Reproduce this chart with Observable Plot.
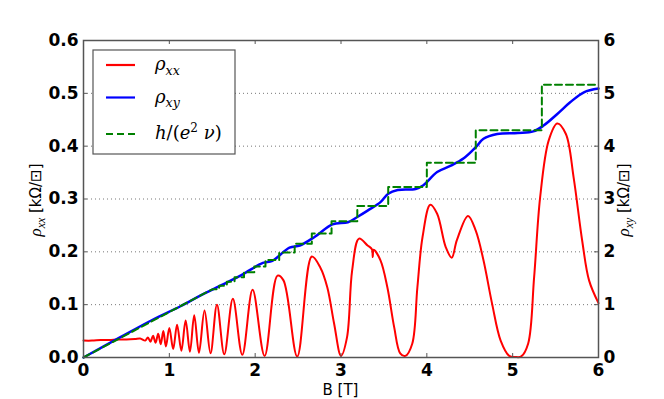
<!DOCTYPE html>
<html><head><meta charset="utf-8">
<script src="https://cdn.jsdelivr.net/npm/d3@7"></script>
<script src="https://cdn.jsdelivr.net/npm/@observablehq/plot@0.6"></script>
<style>body{margin:0;background:#fff}#chart{width:664px;height:399px;position:relative}</style>
</head><body><div id="chart"></div>
<script>
// rho_xx (left axis, kOhm/sq)
const xxB = [0.00,0.10,0.20,0.30,0.40,0.50,0.60,0.66,0.72,0.75,0.78,0.81,0.84,0.87,0.90,0.93,0.96,1.00,1.045,1.09,1.14,1.19,1.24,1.29,1.345,1.41,1.48,1.555,1.64,1.74,1.85,1.97,2.11,2.26,2.33,2.49,2.66,2.76,2.84,2.92,3.00,3.07,3.13,3.21,3.31,3.36,3.37,3.38,3.46,3.54,3.62,3.69,3.75,3.83,3.89,3.95,4.04,4.12,4.22,4.29,4.35,4.48,4.57,4.66,4.76,4.86,4.96,5.03,5.10,5.18,5.25,5.32,5.42,5.52,5.62,5.71,5.81,5.89,6.00];
const xxV = [0.032,0.032,0.033,0.033,0.034,0.034,0.035,0.036,0.032,0.038,0.030,0.041,0.028,0.045,0.025,0.050,0.021,0.056,0.016,0.062,0.013,0.070,0.011,0.080,0.009,0.089,0.008,0.100,0.006,0.111,0.005,0.128,0.003,0.155,0.146,0.002,0.191,0.170,0.133,0.064,0.003,0.038,0.165,0.225,0.212,0.205,0.190,0.204,0.184,0.133,0.057,0.008,0.003,0.026,0.133,0.228,0.289,0.272,0.209,0.189,0.222,0.268,0.240,0.184,0.102,0.032,0.003,0.001,0.002,0.026,0.152,0.303,0.411,0.443,0.423,0.341,0.221,0.146,0.103];
// rho_xy (right axis, kOhm/sq)
const xyB = [0.00,0.43,0.80,1.13,1.36,1.62,1.85,2.09,2.20,2.40,2.52,2.70,2.90,3.08,3.19,3.31,3.46,3.55,3.66,3.87,3.96,4.12,4.28,4.43,4.57,4.66,4.82,5.06,5.24,5.36,5.52,5.67,5.83,6.00];
const xyV = [0.00,0.385,0.71,0.97,1.17,1.38,1.57,1.79,1.83,2.08,2.12,2.29,2.52,2.56,2.66,2.78,2.94,3.10,3.17,3.19,3.26,3.51,3.63,3.77,3.98,4.14,4.23,4.25,4.28,4.39,4.61,4.83,5.02,5.09];
// h/(e^2 nu) plateaus (right axis, kOhm/sq): start field and value, nu = 20 ... 5
const stepB = [1.50,1.58,1.67,1.76,1.87,1.99,2.12,2.28,2.46,2.66,2.89,3.19,3.55,4.00,4.57,5.34];
const stepV = [1.291,1.359,1.434,1.518,1.613,1.721,1.844,1.986,2.151,2.347,2.581,2.868,3.227,3.688,4.302,5.163];
const stepStart = [0, 0];   // (B, value) origin of the low-field part
const stepEndB = 6.0;

const xTicks = [0,1,2,3,4,5,6];
const yTicks = [0,0.1,0.2,0.3,0.4,0.5,0.6];
const gridY = [0.1,0.2,0.3,0.4,0.5];
const colors = ["#ff0000","#0000ff","#008000"];

const xx = xxB.map((b,i)=>({B:b, v:xxV[i]}));
const xy = xyB.map((b,i)=>({B:b, v:xyV[i]}));
const green = [{B:stepStart[0], v:stepStart[1]}];
stepB.forEach((b,i)=>{ if(i>0) green.push({B:b, v:stepV[i-1]}); green.push({B:b, v:stepV[i]}); });
green.push({B:stepEndB, v:stepV[stepV.length-1]});

const W=664,H=399,mL=83,mR=66,mT=40,mB=42;
const pw=W-mL-mR, ph=H-mT-mB;
const frameCol="#555";

const chart = Plot.plot({
  width:W, height:H, marginLeft:mL, marginRight:mR, marginTop:mT, marginBottom:mB,
  style:{fontFamily:"DejaVu Sans", fontSize:"17px", fontWeight:"bold", background:"#fff", overflow:"visible", color:"#000"},
  x:{domain:[0,6], label:null},
  y:{domain:[0,0.6], label:null},
  marks:[
    Plot.ruleY(gridY, {stroke:"#777", strokeDasharray:"1,3", strokeWidth:1}),
    Plot.line(xx, {x:"B", y:"v", stroke:colors[0], strokeWidth:2, curve:"catmull-rom"}),
    Plot.line(xy, {x:"B", y:d=>d.v/10, stroke:colors[1], strokeWidth:2.5, curve:"catmull-rom"}),
    Plot.line(green, {x:"B", y:d=>d.v/10, stroke:colors[2], strokeWidth:2, strokeDasharray:"7,4"}),
    Plot.frame({stroke:frameCol, strokeWidth:1.5}),
    Plot.tickX(xTicks, {x:d=>d, insetTop:ph-4, stroke:frameCol}),
    Plot.tickX(xTicks, {x:d=>d, insetBottom:ph-4, stroke:frameCol}),
    Plot.tickY(yTicks, {y:d=>d, insetRight:pw-4, stroke:frameCol}),
    Plot.tickY(yTicks, {y:d=>d, insetLeft:pw-4, stroke:frameCol}),
    Plot.axisX(xTicks, {anchor:"bottom", tickSize:0, tickPadding:6, label:null, tickFormat:d=>String(d)}),
    Plot.axisY(yTicks, {anchor:"left", tickSize:0, tickPadding:5, label:null, tickFormat:d=>d.toFixed(1)}),
    Plot.axisY(yTicks, {anchor:"right", tickSize:0, tickPadding:5, label:null, tickFormat:d=>String(Math.round(d*10))})
  ]
});
document.getElementById("chart").appendChild(chart);

const svg = d3.select(chart);
const mathFont = "Liberation Serif";
const legFont = "DejaVu Serif";
function rhoLabel(g, sub, size, fam){
  g.append("tspan").attr("font-family",fam).attr("font-style","italic").attr("font-size",size).text("ρ");
  g.append("tspan").attr("font-family",fam).attr("font-style","italic").attr("font-size",size*0.7).attr("dy",size*0.25).text(sub);
}
function baseText(){
  return svg.append("text").attr("text-anchor","middle").attr("font-family","DejaVu Sans")
    .attr("font-size",15).attr("font-weight","normal").attr("fill","#000");
}
// axis labels
const yl = baseText().attr("transform","translate(41,200) rotate(-90)");
rhoLabel(yl,"xx",17,mathFont);
yl.append("tspan").attr("dy",-17*0.25).text(" [kΩ/⊡]");
const yr = baseText().attr("transform","translate(629,200) rotate(-90)");
rhoLabel(yr,"xy",17,mathFont);
yr.append("tspan").attr("dy",-17*0.25).text(" [kΩ/⊡]");
baseText().attr("x",340.5).attr("y",395).text("B [T]");

// legend
const lg = svg.append("g");
lg.append("rect").attr("x",93).attr("y",50).attr("width",142).attr("height",104)
  .attr("fill","#fff").attr("stroke",frameCol).attr("stroke-width",1.2);
const rowsY=[65,97.5,134];
rowsY.forEach((y,i)=>{
  lg.append("line").attr("x1",106).attr("x2",135).attr("y1",y).attr("y2",y)
    .attr("stroke",colors[i]).attr("stroke-width",2.2).attr("stroke-dasharray", i===2?"7,4":null);
});
function legText(y){ return lg.append("text").attr("x",155).attr("y",y+5).attr("text-anchor","start")
  .attr("font-family",legFont).attr("font-size",18).attr("font-weight","normal").attr("fill","#000"); }
rhoLabel(legText(rowsY[0]),"xx",18,legFont);
rhoLabel(legText(rowsY[1]),"xy",18,legFont);
const t3 = legText(rowsY[2]);
t3.append("tspan").attr("font-style","italic").text("h");
t3.append("tspan").text("/(");
t3.append("tspan").attr("font-style","italic").text("e");
t3.append("tspan").attr("font-size",12).attr("dy",-7).text("2");
t3.append("tspan").attr("dy",7).text(" ");
t3.append("tspan").attr("font-style","italic").text("ν");
t3.append("tspan").text(")");
</script>
</body></html>
